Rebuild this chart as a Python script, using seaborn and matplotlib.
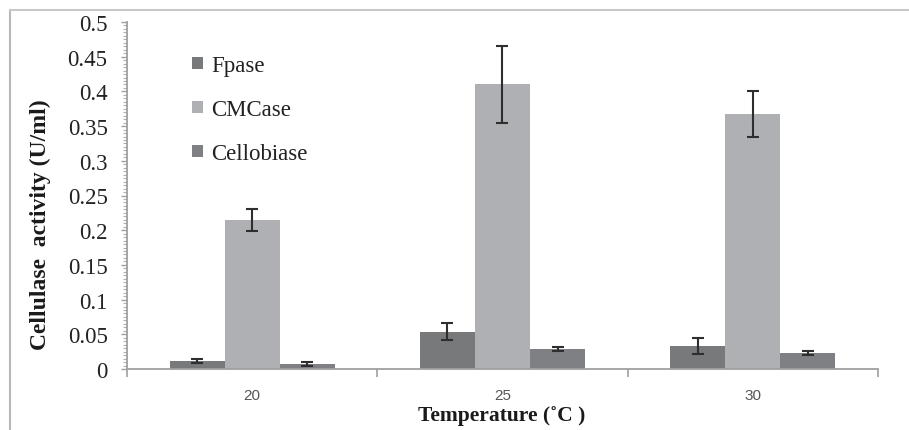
import matplotlib
matplotlib.use("Agg")
import matplotlib.pyplot as plt
from matplotlib.lines import Line2D
from matplotlib.ticker import MultipleLocator
import seaborn as sns
import pandas as pd
import numpy as np

# ---- data ----
temperatures = ["20", "25", "30"]
enzymes = ["Fpase", "CMCase", "Cellobiase"]
fpase = [0.012, 0.054, 0.033]
cmcase = [0.215, 0.410, 0.368]
cellobiase = [0.007, 0.029, 0.023]
fpase_err = [0.003, 0.0125, 0.011]
cmcase_err = [0.016, 0.056, 0.033]
cellobiase_err = [0.003, 0.003, 0.003]
yticks = [0, 0.05, 0.1, 0.15, 0.2, 0.25, 0.3, 0.35, 0.4, 0.45, 0.5]
ytick_labels = ["0", "0.05", "0.1", "0.15", "0.2", "0.25", "0.3", "0.35", "0.4", "0.45", "0.5"]

values = {"Fpase": fpase, "CMCase": cmcase, "Cellobiase": cellobiase}
errors = {"Fpase": fpase_err, "CMCase": cmcase_err, "Cellobiase": cellobiase_err}

df = pd.DataFrame(
    [(t, e, values[e][i]) for e in enzymes for i, t in enumerate(temperatures)],
    columns=["Temperature", "Enzyme", "Activity"],
)

sns.set_theme(style="white")
plt.rcParams["font.family"] = ["Liberation Serif", "DejaVu Serif"]

fig = plt.figure(figsize=(9.09, 4.31), dpi=100)
ax = fig.add_axes([127 / 909, 1 - 370 / 431, (878 - 127) / 909, (370 - 23) / 431])

palette = {"Fpase": "#78797b", "CMCase": "#afb0b3", "Cellobiase": "#7f8083"}
sns.barplot(data=df, x="Temperature", y="Activity", hue="Enzyme",
            order=temperatures, hue_order=enzymes, palette=palette,
            width=0.66, errorbar=None, saturation=1, ax=ax, linewidth=0)

# error bars at the bar centers given by seaborn
for container, enz in zip(ax.containers, enzymes):
    xs = [p.get_x() + p.get_width() / 2 for p in container.patches]
    hs = [p.get_height() for p in container.patches]
    ax.errorbar(xs, hs, yerr=errors[enz], fmt="none", ecolor="#2e2e2e",
                elinewidth=1.5, capsize=4.5, capthick=1.5, zorder=5)

ax.set_ylim(0, 0.5)
ax.set_xlim(-0.5, 2.5)
ax.set_yticks(yticks)
ax.set_yticklabels(ytick_labels, fontsize=16.5, color="#222222")
ax.yaxis.set_minor_locator(MultipleLocator(0.005))
ax.tick_params(axis="y", which="major", left=True, length=4, width=1,
               color="#a0a0a0", pad=10)
ax.tick_params(axis="y", which="minor", left=True, length=3, width=0.8,
               color="#b0b0b0")

# x ticks: labels at category centers, tick marks at boundaries
ax.set_xticks([0, 1, 2])
ax.set_xticklabels(temperatures, fontsize=11, color="#555555",
                   family=["Liberation Sans", "DejaVu Sans"])
ax.tick_params(axis="x", which="major", bottom=False, length=0, pad=14)
ax.set_xticks([-0.5, 0.5, 1.5, 2.5], minor=True)
ax.tick_params(axis="x", which="minor", bottom=True, length=6, width=1.2,
               color="#a0a0a0")

for side in ["top", "right"]:
    ax.spines[side].set_visible(False)
for side in ["left", "bottom"]:
    ax.spines[side].set_color("#a0a0a0")
    ax.spines[side].set_linewidth(1.3)

ax.set_xlabel("")
ax.set_ylabel("")
fig.text(40 / 909, 1 - 225 / 431, "Cellulase  activity (U/ml)", rotation=90,
         ha="center", va="center", fontsize=17, fontweight="bold",
         color="#1a1a1a")
fig.text(502 / 909, 1 - 416 / 431, "Temperature (˚C )", ha="center",
         va="center", fontsize=15.5, fontweight="bold", color="#1a1a1a")

# legend
leg = ax.legend(loc="upper left", bbox_to_anchor=(0.075, 0.93), frameon=False,
                fontsize=16.5, handlelength=0.45, handleheight=0.45,
                handletextpad=0.35, labelspacing=1.0, borderaxespad=0)
for t in leg.get_texts():
    t.set_color("#222222")

# outer frame lines (left and top)
fig.add_artist(Line2D([10 / 909, 10 / 909], [0, 1 - 11 / 431],
                      transform=fig.transFigure, color="#b8b8b8", lw=1.5))
fig.add_artist(Line2D([10 / 909, 1], [1 - 11 / 431, 1 - 11 / 431],
                      transform=fig.transFigure, color="#c8c8c8", lw=1.5))

fig.savefig("out.png", dpi=100, facecolor="white")
